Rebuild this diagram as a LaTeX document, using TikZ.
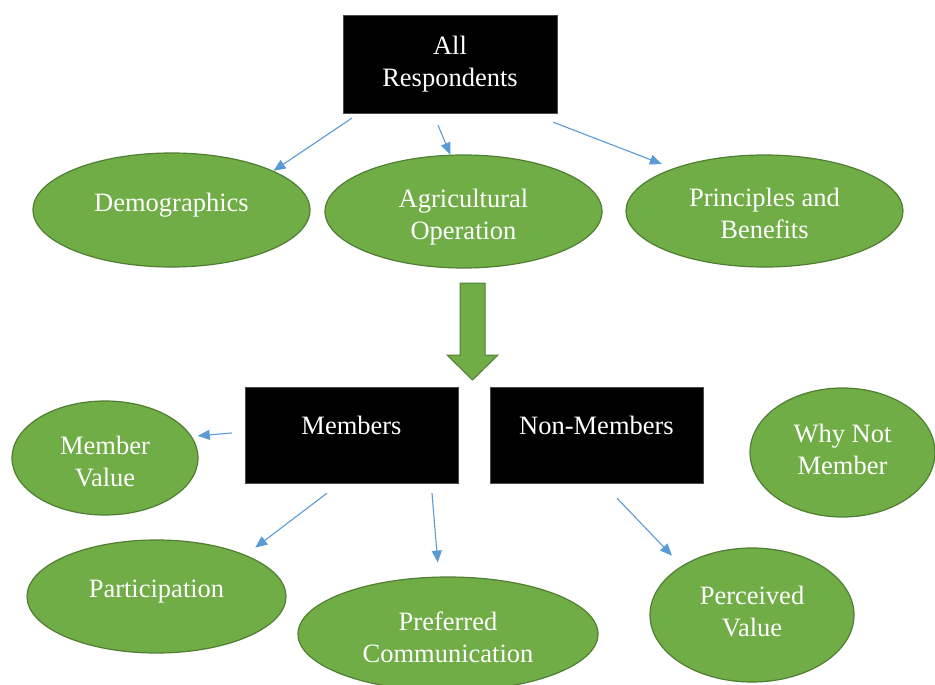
\documentclass[tikz,border=0pt]{standalone}
\usepackage{fontspec}
\setmainfont{Liberation Serif}
\usetikzlibrary{shapes.geometric,arrows.meta,positioning}
\definecolor{leafgreen}{HTML}{70AD47}
\definecolor{darkleaf} {HTML}{507E32}
\definecolor{linkblue} {HTML}{5B9BD5}
% struts to nudge the text inside a shape
\newcommand{\txtdown}[1]{\rule{0pt}{#1}}
\newcommand{\txtup}[1]{\rule[-#1]{0pt}{0pt}}

\tikzset{
  topic/.style={ellipse,draw=darkleaf,line width=1.2pt,fill=leafgreen,
    text=white,align=center,inner sep=0pt,font=\fontsize{26.5}{32}\selectfont},
  group/.style={rectangle,draw=black!70,fill=black,text=white,align=center,
    inner sep=0pt,minimum width=213pt,minimum height=96pt,
    font=\fontsize{26.5}{32}\selectfont},
  link/.style={linkblue,line width=1.1pt,-{Triangle[length=12pt,width=10pt]}},
}

\begin{document}
\begin{tikzpicture}[x=1pt,y=-1pt]
  \useasboundingbox (0,0) rectangle (935,685);
  % top level
  \node[group,minimum width=214pt,minimum height=98pt] (all) at (450,64) {All\\Respondents};
  \node[topic,minimum width=277pt,minimum height=114pt] (demo)  at (171.5,210) {Demographics\txtup{15.75pt}};
  \node[topic,minimum width=277pt,minimum height=113pt] (agri)  at (463.5,211.5) {\txtdown{29pt}Agricultural\\Operation};
  \node[topic,minimum width=277pt,minimum height=112pt] (princ) at (764.5,211) {\txtdown{23pt}Principles and\\Benefits};
  \draw[link] ([xshift=9pt,yshift=-5pt]all.south west) -- (demo.21);
  \draw[link] ([xshift=-12pt,yshift=-12pt]all.south) -- (agri.103);
  \draw[link,shorten >=12pt] ([xshift=-4pt,yshift=-9pt]all.south east) -- (princ.155);
  % block arrow
  \filldraw[fill=leafgreen,draw=darkleaf,line width=1pt]
    (460,283) -- (485,283) -- (485,355) -- (498,355) -- (472.5,380)
    -- (447,355) -- (460,355) -- cycle;
  % members and non-members
  \node[group] (members) at (351.5,435) {Members\txtup{20pt}};
  \node[group] (nonmem)  at (596.5,435) {Non-Members\txtup{20pt}};
  \node[topic,minimum width=186pt,minimum height=114pt] (memval) at (105,458) {\txtdown{26pt}Member\\Value};
  \node[topic,minimum width=185pt,minimum height=129pt] (whynot) at (842.5,452.5) {Why Not\\Member\txtup{7pt}};
  \node[topic,minimum width=259pt,minimum height=113pt] (partic) at (156.5,596.5) {Participation\txtup{15.75pt}};
  \node[topic,minimum width=300pt,minimum height=114pt] (pref)   at (448,634) {\txtdown{25pt}Preferred\\Communication};
  \node[topic,minimum width=204pt,minimum height=134pt] (perc)   at (752,615) {Perceived\\Value\txtup{8pt}};
  \draw[link,shorten >=6pt]  ([xshift=-13pt,yshift=2pt]members.west) -- (memval.14);
  \draw[link,shorten >=12pt] ([xshift=-24.5pt,yshift=-10pt]members.south) -- (partic.25);
  \draw[link,shorten >=14pt] ([xshift=80.5pt,yshift=-10pt]members.south) -- (pref.99);
  \draw[link,shorten >=14pt] ([xshift=20.5pt,yshift=-15pt]nonmem.south) -- (perc.145);
\end{tikzpicture}
\end{document}
